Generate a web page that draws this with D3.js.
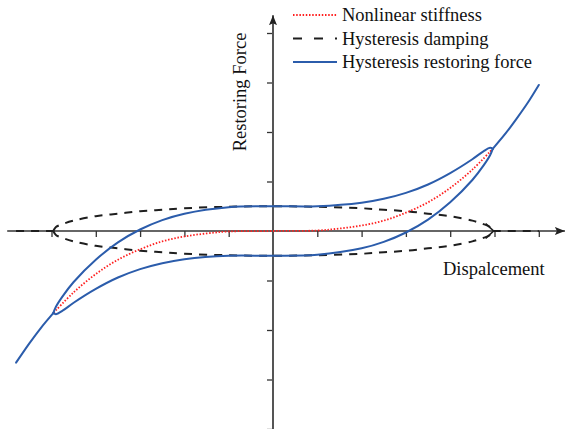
<!DOCTYPE html>
<html>
<head>
<meta charset="utf-8">
<script src="https://cdn.jsdelivr.net/npm/d3@7"></script>
<style>
  html, body { margin: 0; padding: 0; background: #fff; }
  svg { display: block; }
</style>
</head>
<body>
<svg id="chart" width="565" height="429"></svg>
<script>
// Nonlinear stiffness force (inside the loop)
const stiffX = [-4.95, -4.5, -4, -3.5, -3, -2.5, -2, -1.5, -1, 0, 1, 1.5, 2, 2.5, 3, 3.5, 4, 4.5, 4.95];
const stiffY = [-1.65, -1.24, -0.87, -0.58, -0.37, -0.21, -0.11, -0.05, -0.01, 0, 0.01, 0.05, 0.11, 0.21, 0.37, 0.58, 0.87, 1.24, 1.65];

// Hysteresis damping force: outer zero segments and the two loop branches
const dampAxisLeftX = [-5.8, -4.96];
const dampAxisRightX = [4.96, 6.0];
const dampLoopX = [-4.96, -4.9, -4.75, -4.5, -4, -3.5, -3, -2.5, -2, -1, 0, 1, 2, 2.5, 3, 3.5, 4, 4.5, 4.75, 4.9, 4.96];
const dampUpperY = [0, 0.08, 0.14, 0.21, 0.30, 0.35, 0.40, 0.43, 0.46, 0.49, 0.50, 0.49, 0.46, 0.43, 0.40, 0.35, 0.30, 0.21, 0.14, 0.08, 0];
const dampLowerY = [0, -0.08, -0.14, -0.21, -0.30, -0.35, -0.40, -0.43, -0.46, -0.49, -0.50, -0.49, -0.46, -0.43, -0.40, -0.35, -0.30, -0.21, -0.14, -0.08, 0];

// Hysteresis restoring force: outer backbone and loop branches
const outerLeftX = [-5.8, -5.5, -5.25, -4.96];
const outerLeftY = [-2.66, -2.27, -1.97, -1.66];
const outerRightX = [4.96, 5.25, 5.5, 5.75, 6.0];
const outerRightY = [1.66, 1.97, 2.27, 2.59, 2.95];
const loopX = [-4.96, -4.9, -4.75, -4.5, -4, -3.5, -3, -2.5, -2, -1, 0, 1, 2, 2.5, 3, 3.5, 4, 4.5, 4.75, 4.9, 4.96];
const loopUpperY = [-1.66, -1.53, -1.32, -1.03, -0.58, -0.23, 0.03, 0.22, 0.35, 0.48, 0.50, 0.50, 0.57, 0.65, 0.77, 0.94, 1.17, 1.45, 1.61, 1.68, 1.66];
const loopLowerY = [-1.66, -1.68, -1.61, -1.45, -1.17, -0.94, -0.77, -0.65, -0.57, -0.50, -0.50, -0.48, -0.35, -0.22, -0.03, 0.23, 0.58, 1.03, 1.32, 1.53, 1.66];

// Axis ticks (unlabelled)
const xTicks = [-5, -4, -3, -2, -1, 1, 2, 3, 4, 5, 6];
const yTicks = [-4, -3, -2, -1, 1, 2, 3, 4];

const legendItems = [
  { label: "Nonlinear stiffness", key: "stiff" },
  { label: "Hysteresis damping", key: "damp" },
  { label: "Hysteresis restoring force", key: "force" }
];

const styles = {
  stiff: { stroke: "#ff1f1f", width: 1.8, dash: "1.5,1.7" },
  damp: { stroke: "#1e1e1e", width: 2, dash: "8,7" },
  force: { stroke: "#2b5cab", width: 2, dash: null }
};

const FONT = "'Liberation Serif', 'Times New Roman', 'DejaVu Serif', serif";
const FONT_SIZE = 18.5;

const svg = d3.select("#chart");

const x = d3.scaleLinear().domain([-6, 6]).range([7.2, 538.8]);
const y = d3.scaleLinear().domain([-4, 4]).range([429, 33]);

const pts = (xs, ys) => xs.map((v, i) => [v, ys[i]]);
const line = d3.line().x(d => x(d[0])).y(d => y(d[1])).curve(d3.curveCatmullRom.alpha(0.5));

// Arrow marker
const defs = svg.append("defs");
defs.append("marker").attr("id", "arrowHead")
  .attr("viewBox", "0 0 10 8").attr("refX", 10).attr("refY", 4)
  .attr("markerUnits", "userSpaceOnUse").attr("markerWidth", 10).attr("markerHeight", 8)
  .attr("orient", "auto")
  .append("path").attr("d", "M0,0 L10,4 L0,8 L2,4 Z").attr("fill", "#222");

// Axes
const gx = svg.append("g").attr("transform", `translate(0,${y(0)})`)
  .call(d3.axisBottom(x).tickValues(xTicks).tickFormat("").tickSize(6).tickSizeOuter(0));
gx.select(".domain").remove();
gx.selectAll(".tick line").attr("stroke", "#333").attr("stroke-width", 1.3);

const gy = svg.append("g").attr("transform", `translate(${x(0)},0)`)
  .call(d3.axisLeft(y).tickValues(yTicks).tickFormat("").tickSize(6).tickSizeOuter(0));
gy.select(".domain").remove();
gy.selectAll(".tick line").attr("stroke", "#333").attr("stroke-width", 1.3);

// X axis line with arrow
svg.append("line")
  .attr("x1", x(-6)).attr("x2", x(6.59))
  .attr("y1", y(0)).attr("y2", y(0))
  .attr("stroke", "#333").attr("stroke-width", 1.5)
  .attr("marker-end", "url(#arrowHead)");

// Y axis line with arrow
svg.append("line")
  .attr("x1", x(0)).attr("x2", x(0))
  .attr("y1", y(-4)).attr("y2", y(4.36))
  .attr("stroke", "#555").attr("stroke-width", 2)
  .attr("marker-end", "url(#arrowHead)");

// Hysteresis damping (dashed)
const dampPaths = [
  pts(dampAxisLeftX, [0, 0]),
  pts(dampLoopX, dampUpperY),
  pts(dampLoopX, dampLowerY),
  pts(dampAxisRightX, [0, 0])
];
svg.append("g").selectAll("path").data(dampPaths).join("path")
  .attr("d", line)
  .attr("fill", "none")
  .attr("stroke", styles.damp.stroke)
  .attr("stroke-width", styles.damp.width)
  .attr("stroke-dasharray", styles.damp.dash);

// Tip chevron of the damping loop
svg.append("path")
  .attr("d", `M${x(4.8)},${y(0.15)} L${x(4.98)},${y(0)} L${x(4.8)},${y(-0.15)}`)
  .attr("fill", "none").attr("stroke", "#1e1e1e").attr("stroke-width", 1.6);

// Nonlinear stiffness (dotted)
svg.append("path")
  .attr("d", line(pts(stiffX, stiffY)))
  .attr("fill", "none")
  .attr("stroke", styles.stiff.stroke)
  .attr("stroke-width", styles.stiff.width)
  .attr("stroke-dasharray", styles.stiff.dash);

// Hysteresis restoring force (solid): backbone pieces and loop branches
const forcePaths = [
  pts(outerLeftX, outerLeftY),
  pts(loopX, loopUpperY),
  pts(loopX, loopLowerY),
  pts(outerRightX, outerRightY)
];
svg.append("g").selectAll("path").data(forcePaths).join("path")
  .attr("d", line)
  .attr("fill", "none")
  .attr("stroke", styles.force.stroke)
  .attr("stroke-width", styles.force.width)
  .attr("stroke-linejoin", "round")
  .attr("stroke-linecap", "round");

// Axis titles
svg.append("text")
  .attr("transform", `translate(246,92) rotate(-90)`)
  .attr("text-anchor", "middle")
  .attr("font-family", FONT)
  .attr("font-size", FONT_SIZE)
  .attr("fill", "#111")
  .text("Restoring Force");

svg.append("text")
  .attr("x", 443).attr("y", 275)
  .attr("font-family", FONT)
  .attr("font-size", FONT_SIZE)
  .attr("fill", "#111")
  .text("Dispalcement");

// Legend
const legend = svg.append("g").attr("transform", "translate(293,0)");
const rows = legend.selectAll("g").data(legendItems).join("g")
  .attr("transform", (d, i) => `translate(0,${15 + i * 23.5})`);
rows.append("line")
  .attr("x1", 0).attr("x2", 44).attr("y1", 0).attr("y2", 0)
  .attr("stroke", d => styles[d.key].stroke)
  .attr("stroke-width", d => styles[d.key].width)
  .attr("stroke-dasharray", d => d.key === "damp" ? "9,12" : styles[d.key].dash);
rows.append("text")
  .attr("x", 49).attr("y", 6)
  .attr("font-family", FONT)
  .attr("font-size", FONT_SIZE)
  .attr("fill", "#111")
  .text(d => d.label);
</script>
</body>
</html>
